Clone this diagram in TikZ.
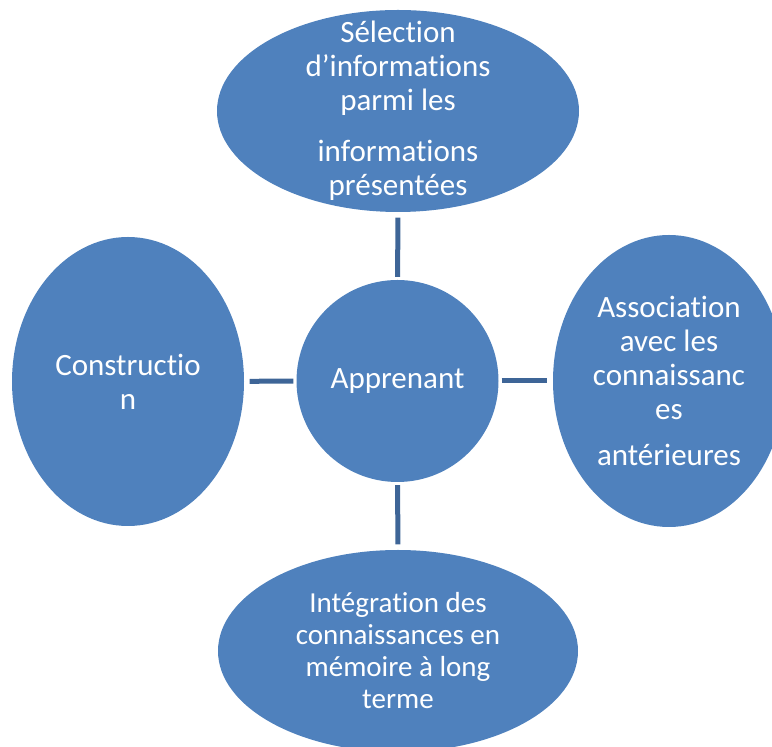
\documentclass[tikz,border=0pt]{standalone}
\usepackage{fontspec}
\setmainfont[RawFeature=-liga]{Carlito}
\usetikzlibrary{shapes.geometric}
\definecolor{bubble}{HTML}{4F81BD}
\definecolor{spoke}{HTML}{3E6597}

\begin{document}
\begin{tikzpicture}[x=1pt,y=1pt,
  bubble/.style={ellipse,fill=bubble,draw=none,inner sep=0pt},
  txt/.style={text=white,align=center,font=\fontsize{31}{34}\selectfont},
  link/.style={draw=spoke,line width=5pt,shorten <=3pt,shorten >=5.5pt}]
\clip (0,0) rectangle (772,747);

% the four bubbles round the learner
\node[bubble,circle,minimum size=202pt] (hub) at (397.5,366) {};
\node[bubble,minimum width=362pt,minimum height=202pt] (sel) at (398,636) {};
\node[bubble,minimum width=232pt,minimum height=289pt] (cons) at (128,365.5) {};
\node[bubble,minimum width=232pt,minimum height=292pt] (assoc) at (669,366) {};
\node[bubble,minimum width=360pt,minimum height=202pt] (integ) at (398,96) {};

\node[txt] (hubText) at (hub.center) {Apprenant};
\node[txt] (selText) at (sel.center) {Sélection\\d’informations\\parmi les\\[17pt]informations\\présentées};
\node[txt] (consText) at (cons.center) {Constructio\\n};
\node[txt] (assocText) at (assoc.center) {Association\\avec les\\connaissanc\\es\\[12pt]antérieures};
\node[txt,font=\fontsize{29}{32}\selectfont] (integText) at (integ.center) {Intégration des\\connaissances en\\mémoire à long\\terme};

\draw[link] (hub) -- (sel);
\draw[link] (hub) -- (cons);
\draw[link] (hub) -- (assoc);
\draw[link] (hub) -- (integ);

\end{tikzpicture}
\end{document}
